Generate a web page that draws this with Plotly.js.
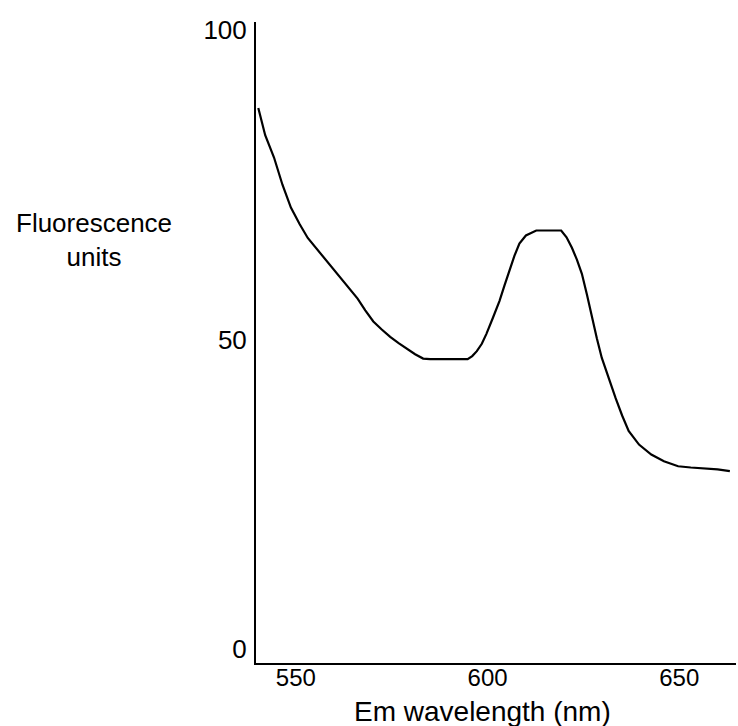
<!DOCTYPE html>
<html>
<head>
<meta charset="utf-8">
<script src="https://cdn.plot.ly/plotly-3.0.1.min.js"></script>
<style>html,body{margin:0;padding:0;background:#fff;}#chart{width:738px;height:726px;}</style>
</head>
<body>
<div id="chart"></div>
<script>
const wavelength = [540.2, 542.0, 544.3, 546.5, 548.7, 551.0, 553.1, 555.2, 557.3, 559.5, 561.7, 563.9, 566.1, 568.1, 570.2, 572.4, 574.6, 576.8, 579.0, 581.1, 583.2, 585.0, 587.6, 590.0, 592.5, 594.8, 596.0, 597.2, 598.5, 599.7, 601.4, 603.1, 604.4, 605.7, 607.0, 608.3, 610.0, 612.7, 615.0, 617.0, 619.2, 620.6, 622.0, 623.3, 624.6, 625.9, 627.2, 628.5, 629.8, 631.6, 633.4, 635.1, 636.8, 639.5, 642.7, 646.0, 649.7, 653.0, 656.7, 660.0, 663.2];
const fluorescence = [87.4, 83.0, 79.4, 75.0, 71.3, 68.6, 66.4, 64.8, 63.2, 61.6, 59.9, 58.3, 56.6, 54.7, 52.9, 51.6, 50.4, 49.4, 48.5, 47.6, 46.9, 46.8, 46.8, 46.8, 46.8, 46.8, 47.3, 48.1, 49.3, 50.9, 53.5, 56.2, 58.7, 61.1, 63.5, 65.5, 66.8, 67.6, 67.6, 67.6, 67.6, 66.5, 64.8, 62.9, 60.6, 57.3, 53.5, 50.2, 47.0, 43.7, 40.5, 37.7, 35.2, 33.0, 31.4, 30.3, 29.5, 29.3, 29.2, 29.0, 28.7];
const xTicks = [550, 600, 650];
const yTicks = [0, 50, 100];
const xTitle = "Em wavelength (nm)";
const yTitle = "Fluorescence<br>units";

const FONT = "Liberation Sans, Arial, sans-serif";

Plotly.newPlot("chart", [{
  x: wavelength,
  y: fluorescence,
  type: "scatter",
  mode: "lines",
  line: {color: "#000", width: 2.2, shape: "linear"},
  hoverinfo: "skip"
}], {
  width: 738,
  height: 726,
  margin: {l: 256, r: 2, t: 22, b: 63},
  paper_bgcolor: "#fff",
  plot_bgcolor: "#fff",
  showlegend: false,
  font: {family: FONT, color: "#000"},
  xaxis: {
    range: [539.6, 664.8],
    tickvals: xTicks,
    ticktext: xTicks.map(String),
    showgrid: false, zeroline: false,
    showline: true, linecolor: "#000", linewidth: 2,
    ticks: "", ticklabelstandoff: -8,
    tickfont: {family: FONT, size: 24, color: "#000"}
  },
  yaxis: {
    range: [-2.3, 101.3],
    tickvals: yTicks,
    ticktext: yTicks.map(String),
    showgrid: false, zeroline: false,
    showline: true, linecolor: "#000", linewidth: 2,
    ticks: "", ticklabelstandoff: 2,
    tickfont: {family: FONT, size: 26, color: "#000"}
  },
  annotations: [
    {text: xTitle, xref: "paper", yref: "paper", x: 0.472, y: -0.075, xanchor: "center", yanchor: "middle", showarrow: false, font: {family: FONT, size: 28, color: "#000"}},
    {text: yTitle, xref: "paper", yref: "paper", x: -0.337, y: 0.66, xanchor: "center", yanchor: "middle", showarrow: false, align: "center", font: {family: FONT, size: 26, color: "#000"}}
  ]
}, {staticPlot: true});
</script>
</body>
</html>
